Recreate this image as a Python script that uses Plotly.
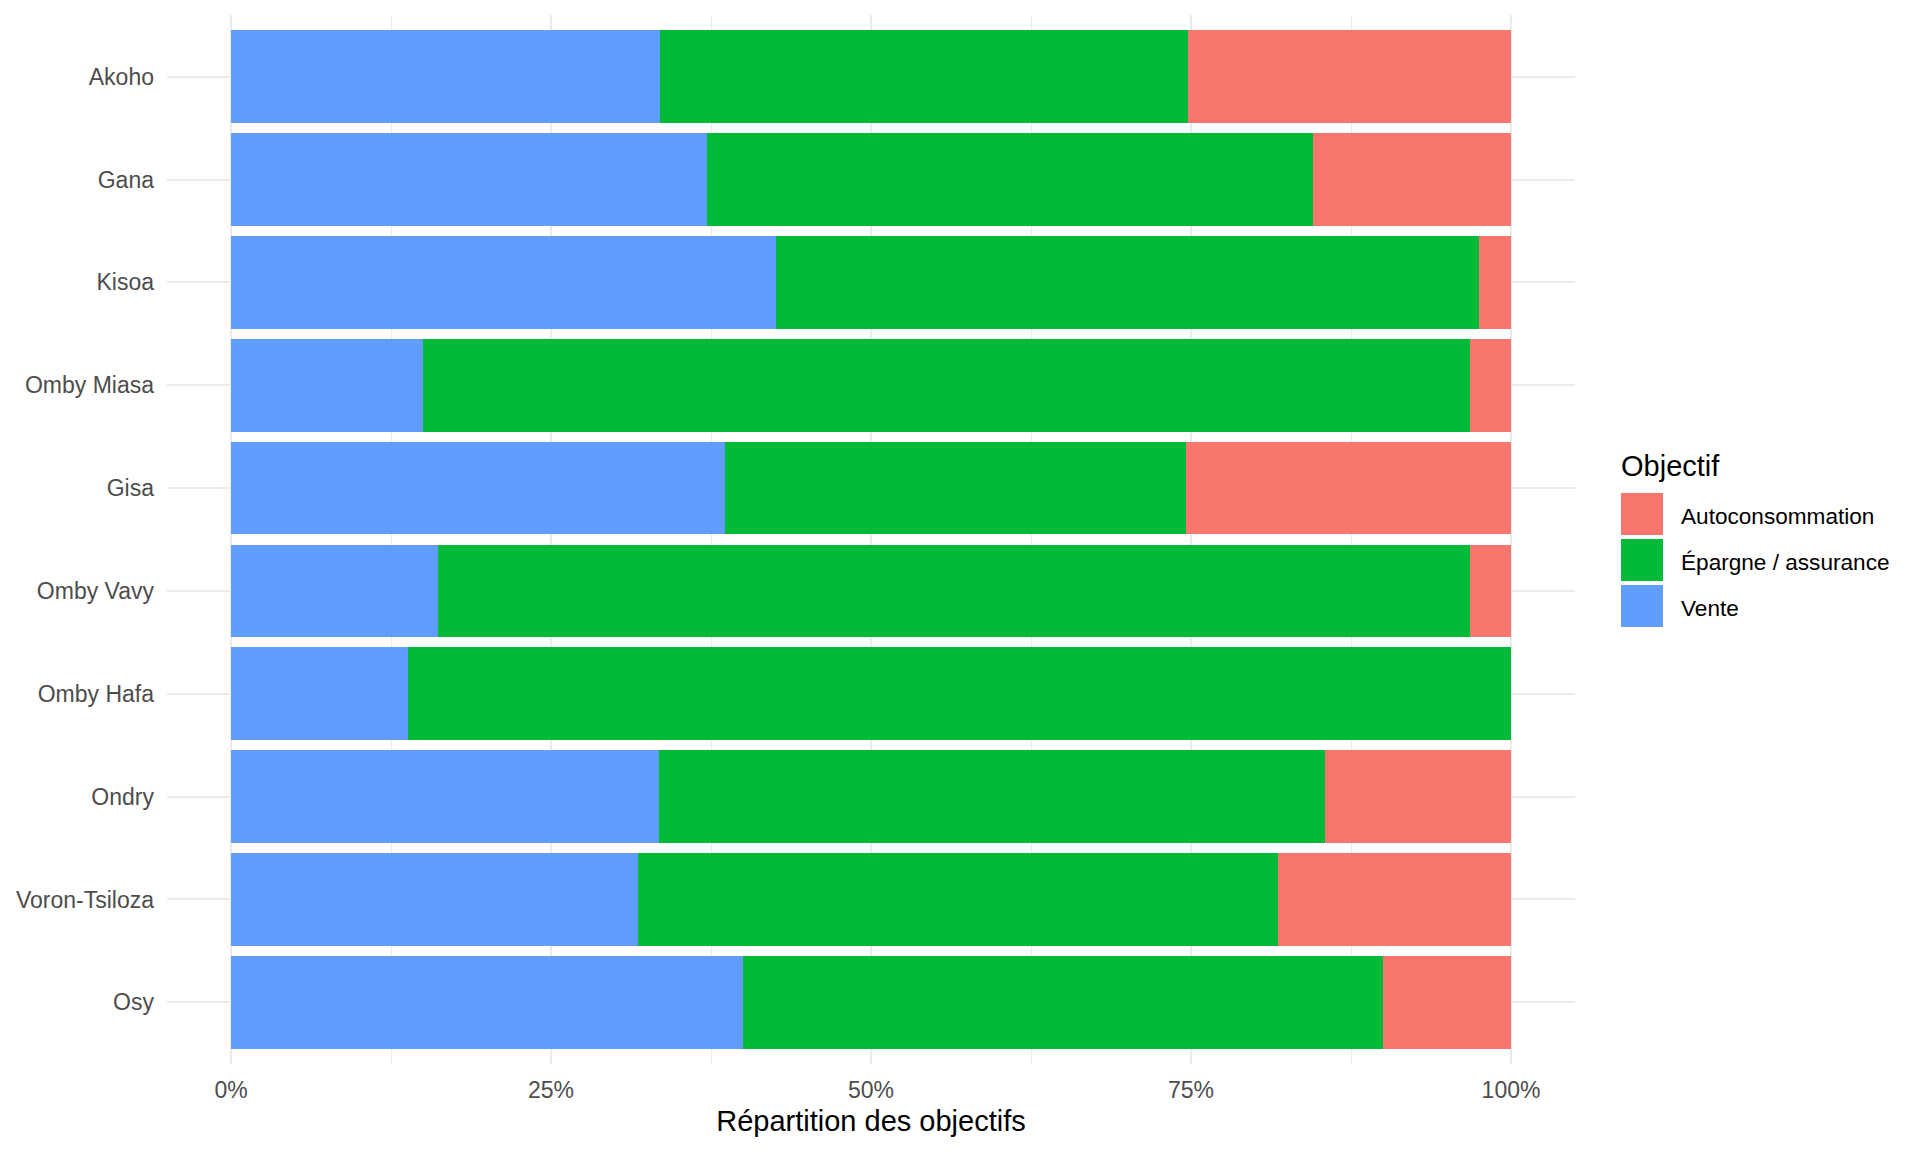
import plotly.graph_objects as go

# ---- data (percent of objectives per category) ----
categories = ["Akoho", "Gana", "Kisoa", "Omby Miasa", "Gisa",
              "Omby Vavy", "Omby Hafa", "Ondry", "Voron-Tsiloza", "Osy"]
vente = [33.5, 37.2, 42.6, 15.0, 38.6, 16.2, 13.8, 33.4, 31.8, 40.0]
epargne = [41.3, 47.3, 54.9, 81.8, 36.0, 80.6, 86.2, 52.1, 50.0, 50.0]
autoconso = [25.2, 15.5, 2.5, 3.2, 25.4, 3.2, 0.0, 14.5, 18.2, 10.0]

series_names = ["Vente", "Épargne / assurance", "Autoconsommation"]
series_values = [vente, epargne, autoconso]
series_colors = ["#619CFF", "#00BA38", "#F8766D"]

legend_names = ["Autoconsommation", "Épargne / assurance", "Vente"]
legend_colors = ["#F8766D", "#00BA38", "#619CFF"]

x_ticks = [0, 0.25, 0.5, 0.75, 1.0]
x_title = "Répartition des objectifs"
legend_title = "Objectif"

FONT = "Arial, Liberation Sans, sans-serif"
W, H = 1920, 1152
OFF = 8  # page body margin compensation
ML, MR, MT, MB = 167 - OFF, 345 + OFF, 15 - OFF, 88 + OFF

fig = go.Figure()
for name, vals, col in zip(series_names, series_values, series_colors):
    fig.add_trace(go.Bar(
        y=categories, x=[v / 100 for v in vals], name=name, orientation="h",
        marker=dict(color=col, line=dict(width=0)), width=0.9,
        showlegend=False,
    ))

fig.update_layout(
    width=W, height=H, barmode="stack",
    margin=dict(l=ML, r=MR, t=MT, b=MB),
    paper_bgcolor="white", plot_bgcolor="white",
    font=dict(family=FONT, size=23, color="#4D4D4D"),
)
fig.update_xaxes(
    range=[-0.05, 1.05], tickvals=x_ticks, tickformat=".0%",
    showgrid=True, gridcolor="#EBEBEB", gridwidth=2,
    minor=dict(dtick=0.125, tick0=0, showgrid=True, gridcolor="#EBEBEB", gridwidth=1),
    zeroline=False, showline=False, ticks="",
    ticklabelstandoff=10,
    tickfont=dict(size=23, color="#4D4D4D"),
    title=dict(text=x_title, font=dict(size=29, color="black"), standoff=8),
)
fig.update_yaxes(
    categoryorder="array", categoryarray=categories[::-1],
    range=[-0.6, len(categories) - 0.4],
    showgrid=True, gridcolor="#EBEBEB", gridwidth=2,
    zeroline=False, showline=False, ticks="",
    ticklabelstandoff=12,
    tickfont=dict(size=23, color="#4D4D4D"),
)

# ---- legend drawn as shapes + text (pixel layout converted to paper coords) ----
PW, PH = W - ML - MR, H - MT - MB
def px(x):
    return (x - OFF - ML) / PW
def py(y):
    return (H - MB - (y - OFF)) / PH

fig.add_annotation(x=px(1619), y=py(466), xref="paper", yref="paper",
                   text=legend_title, showarrow=False, xanchor="left", yanchor="middle",
                   font=dict(size=29, color="black", family=FONT))
key_top = 493
key_size = 42
key_step = 46
for i, (nm, col) in enumerate(zip(legend_names, legend_colors)):
    y0 = key_top + i * key_step
    fig.add_shape(type="rect", xref="paper", yref="paper",
                  x0=px(1621), x1=px(1621 + key_size), y0=py(y0 + key_size), y1=py(y0),
                  fillcolor=col, line=dict(width=0))
    fig.add_annotation(x=px(1679), y=py(y0 + key_size / 2 + 2.5), xref="paper", yref="paper",
                       text=nm, showarrow=False, xanchor="left", yanchor="middle",
                       font=dict(size=22.6, color="black", family=FONT))

fig.write_html("out.html")
